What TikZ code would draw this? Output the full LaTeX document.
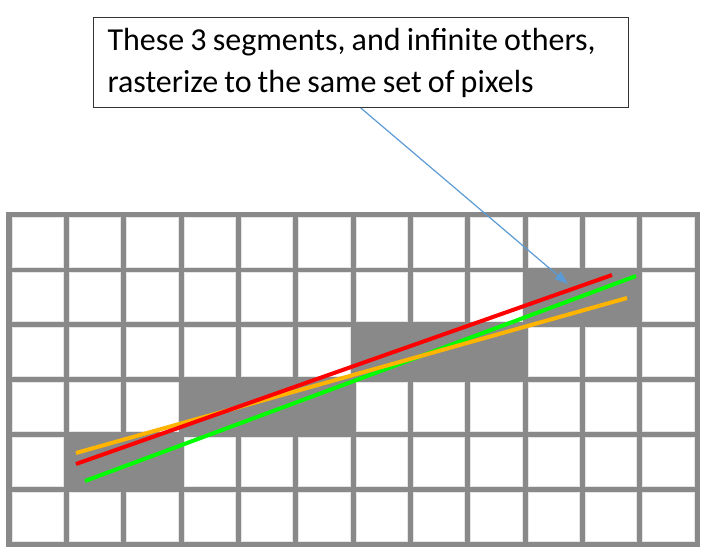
\documentclass[tikz,border=0pt]{standalone}
\usepackage{fontspec}
\setmainfont{Carlito}[WordSpace=0.85]
\usetikzlibrary{arrows.meta}

\definecolor{cellgray}{HTML}{898989}
\definecolor{arrowblue}{HTML}{5B9BD5}
\definecolor{segred}{HTML}{FF0000}
\definecolor{seggreen}{HTML}{00FF00}
\definecolor{segorange}{HTML}{FFB400}

\hyphenpenalty=10000

\begin{document}
\begin{tikzpicture}[
            x=0.75pt,
            y=-0.75pt,
            cell/.style={
                fill=white,
                draw=gray!20,
                line width=0.5pt
            },
            segment/.style={
                line width=3pt
            },
            note/.style={
                draw=black!80,
                line width=0.8pt,
                fill=white,
                align=flush left,
                text width=380pt,
                inner xsep=10.5pt,
                minimum width=401pt,
                minimum height=67.5pt,
                font=\fontsize{24}{28.5}\selectfont
            }
        ]
            \useasboundingbox (0,0) rectangle (708,560);

            % pixel grid
            \fill[cellgray] (6,212) rectangle (700,547);
            \foreach \r in {0,...,5}
                \foreach \c in {0,...,11}
                    \path[cell] ({12+\c*57.33},{217.5+\r*54.9}) rectangle ++(51.33,49.4);

            % pixels that are set
            \foreach \r/\a/\b in {1/9/10, 2/6/8, 3/3/5, 4/1/2}
                \fill[cellgray] ({12+\a*57.33-1},{217.5+\r*54.9-1}) rectangle ({12+\b*57.33+52.33},{217.5+\r*54.9+50.4});

            \coordinate (g1) at (85,481);
            \coordinate (g2) at (636,276);
            \coordinate (o1) at (76,453);
            \coordinate (o2) at (627,298);
            \coordinate (r1) at (76,464);
            \coordinate (r2) at (612,275);

            \draw[segment, seggreen] (g1)--(g2);
            \draw[segment, segorange] (o1)--(o2);
            \draw[segment, segred] (r1)--(r2);

            \node[note, anchor=north west] (note) at (93,17)
                {These 3 segments, and infinite others,\\[3pt]rasterize to the same set of pixels};

            \coordinate (tip) at (568,284);
            \draw[arrowblue, line width=0.9pt, -{Triangle[length=10pt,width=7pt]}] (note.south)--(tip);
        \end{tikzpicture}
\end{document}
